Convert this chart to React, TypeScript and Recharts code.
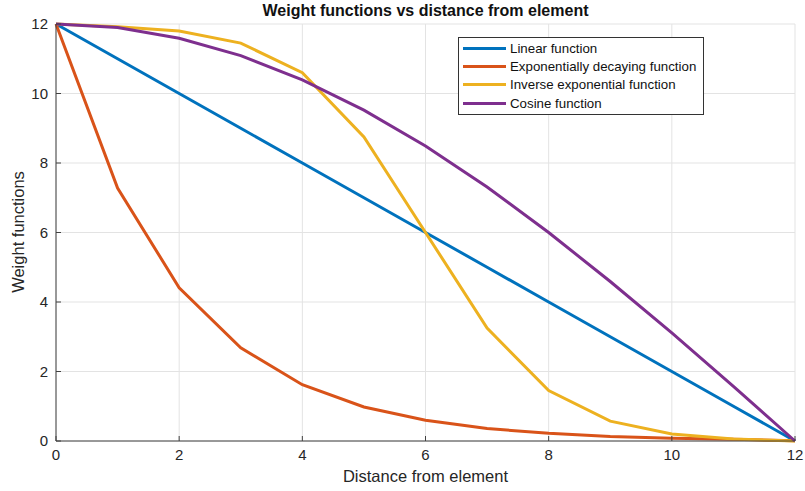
import React from 'react'
import { LineChart, Line, XAxis, YAxis, CartesianGrid, Legend } from 'recharts'

const distance = [0, 1, 2, 3, 4, 5, 6, 7, 8, 9, 10, 11, 12]
const linear = [12, 11, 10, 9, 8, 7, 6, 5, 4, 3, 2, 1, 0]
const expDecay = [12, 7.28, 4.41, 2.68, 1.62, 0.98, 0.6, 0.36, 0.22, 0.13, 0.08, 0.05, 0.01]
const invExp = [12, 11.92, 11.8, 11.45, 10.6, 8.75, 6.0, 3.25, 1.45, 0.57, 0.2, 0.06, 0.0]
const cosine = [12, 11.9, 11.59, 11.09, 10.39, 9.52, 8.49, 7.31, 6.0, 4.59, 3.11, 1.57, 0]
const ticks = [0, 2, 4, 6, 8, 10, 12]

const series = [
    { key: 'linear', name: 'Linear function', color: '#0072BD' },
    { key: 'expDecay', name: 'Exponentially decaying function', color: '#D95319' },
    { key: 'invExp', name: 'Inverse exponential function', color: '#EDB120' },
    { key: 'cosine', name: 'Cosine function', color: '#7E2F8E' }
]

const data = distance.map((d, i) => ({
    d,
    linear: linear[i],
    expDecay: expDecay[i],
    invExp: invExp[i],
    cosine: cosine[i]
}))

const font = 'Liberation Sans, Arial, sans-serif'
const axisColor = '#404040'

const LegendBox = () => (
    <div style={{
        border: '1px solid #333',
        background: '#fff',
        padding: '1px 4px 2px 4px',
        fontFamily: font,
        fontSize: 13.3,
        color: '#111',
        whiteSpace: 'nowrap',
        boxSizing: 'border-box',
        width: 246
    }}>
        {series.map(s => (
            <div key={s.key} style={{ display: 'flex', alignItems: 'center', height: 18.3 }}>
                <span style={{ display: 'inline-block', flex: '0 0 43px', height: 3, background: s.color, marginRight: 4 }} />
                <span>{s.name}</span>
            </div>
        ))}
    </div>
)

export default function App() {
    return (
        <div style={{ position: 'absolute', left: 0, top: 0, width: 805, height: 491, background: '#fff', fontFamily: font }}>
            <div style={{ position: 'absolute', left: 0, width: 851, top: 2, textAlign: 'center', fontWeight: 'bold', fontSize: 16, color: '#111' }}>
                Weight functions vs distance from element
            </div>
            <div style={{ position: 'absolute', left: 0, width: 851, top: 467, textAlign: 'center', fontSize: 16.5, color: '#262626' }}>
                Distance from element
            </div>
            <div style={{
                position: 'absolute', left: 18, top: 232, fontSize: 16.5, color: '#262626',
                transform: 'translate(-50%, -50%) rotate(-90deg)', whiteSpace: 'nowrap'
            }}>
                Weight functions
            </div>
            <LineChart width={805} height={491} data={data}
                margin={{ top: 24, right: 10, bottom: 0, left: 0 }}>
                <CartesianGrid stroke="#e3e3e3" strokeWidth={1} />
                <XAxis dataKey="d" type="number" domain={[0, 12]} ticks={ticks} height={50}
                    stroke={axisColor} tickSize={-5} tickMargin={13}
                    tick={{ fill: '#262626', fontSize: 15, fontFamily: font }} />
                <YAxis type="number" domain={[0, 12]} ticks={ticks} width={56}
                    stroke={axisColor} tickSize={-5} tickMargin={13}
                    tick={{ fill: '#262626', fontSize: 15, fontFamily: font }} />
                <Legend layout="vertical" align="center" verticalAlign="middle"
                    wrapperStyle={{ left: 458, top: 37, width: 246 }}
                    content={() => <LegendBox />} />
                {series.map(s => (
                    <Line key={s.key} dataKey={s.key} name={s.name} stroke={s.color}
                        strokeWidth={3} dot={false} type="linear" isAnimationActive={false} />
                ))}
            </LineChart>
        </div>
    )
}
